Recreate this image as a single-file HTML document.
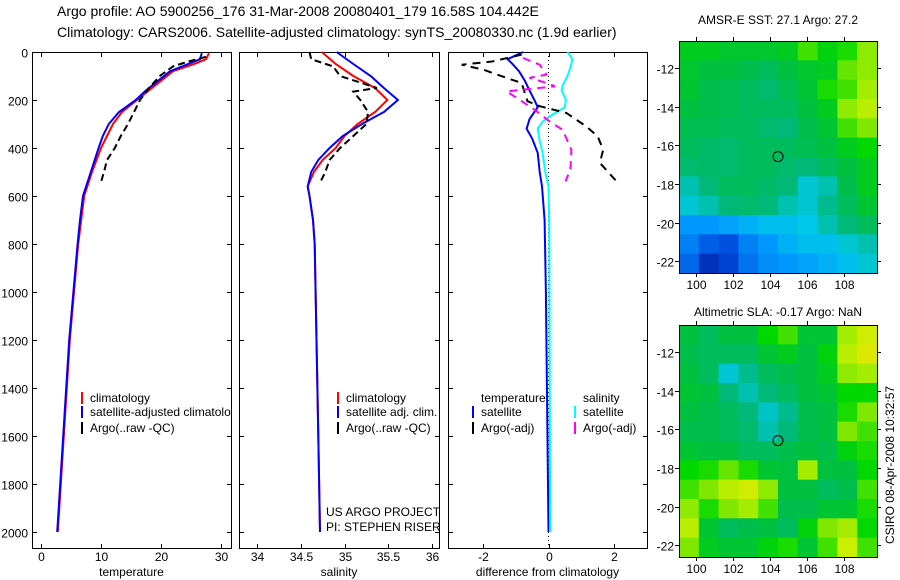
<!DOCTYPE html>
<html><head><meta charset="utf-8"><style>
body{margin:0;background:#fff}
svg{display:block;font-family:"Liberation Sans",sans-serif}
text{fill:#000}
</style></head><body>
<svg id="s" width="900" height="580" viewBox="0 0 900 580">
<text x="57" y="16" font-size="14">Argo profile: AO 5900256_176 31-Mar-2008 20080401_179 16.58S 104.442E</text>
<text x="57" y="37" font-size="14">Climatology: CARS2006. Satellite-adjusted climatology: synTS_20080330.nc (1.9d earlier)</text>
<text x="778" y="24" font-size="12" text-anchor="middle">AMSR-E SST: 27.1 Argo: 27.2</text>
<text x="778" y="316" font-size="12" text-anchor="middle">Altimetric SLA: -0.17 Argo: NaN</text>
<text transform="translate(894,465) rotate(-90)" font-size="12" text-anchor="middle">CSIRO 08-Apr-2008 10:32:57</text>
<g id="g"></g>
</svg>
<script>
// ---------- data ----------
const tempClimDepth=[5,30,50,80,120,160,200,250,300,350,400,500,600,700,800,1000,1200,1400,1600,1800,2000];
const tempClim=[28,27.5,25.5,22,20,18,16,13.5,12,11,10,8.5,7.2,6.7,6.2,5.5,4.8,4.3,3.8,3.3,2.8];
const tempSat=[26.8,26.5,24.5,21.5,19.5,17.5,15.8,13,11.3,10.3,9.6,8.3,7,6.5,6.1,5.4,4.7,4.2,3.7,3.2,2.7];
const tempArgoDepth=[20,40,60,100,150,200,250,300,350,400,450,500,550];
const tempArgo=[27.5,24.5,22,19.8,18,16.5,15.5,14.5,13.3,12.3,11,10.5,9.9];
const salDepth=[0,50,100,150,200,250,300,350,400,450,500,560,600,700,800,1200,1600,2000];
const salClim=[34.74,34.9,35.1,35.35,35.49,35.35,35.15,35.0,34.9,34.75,34.65,34.58,34.6,34.64,34.66,34.68,34.7,34.72];
const salSat=[34.91,35.1,35.3,35.45,35.61,35.45,35.2,34.98,34.83,34.7,34.62,34.58,34.6,34.64,34.66,34.68,34.7,34.72];
const salArgoDepth=[0,30,60,100,150,165,200,250,300,350,400,450,500,545];
const salArgo=[34.6,34.62,34.87,34.95,35.37,35.1,35.18,35.27,35.25,35.1,34.95,34.83,34.78,34.72];
const dTempSatDepth=[0,30,50,80,120,160,200,230,250,280,320,360,420,500,560,700,1000,1500,2000];
const dTempSat=[-0.78,-1.25,-1.1,-0.9,-0.72,-0.58,-0.43,-0.33,-0.43,-0.58,-0.67,-0.5,-0.33,-0.27,-0.2,-0.12,-0.08,-0.04,0];
const dSalSatDepth=[0,30,60,100,140,160,200,230,260,290,320,370,420,500,560,700,1000,1500,2000];
const dSalSat=[0.58,0.73,0.68,0.58,0.43,0.4,0.53,0.5,0.13,-0.18,-0.33,-0.27,-0.18,-0.1,0,0.02,0.03,0.04,0.05];
const dTempArgoDepth=[11,39,53,74,108,129,205,226,254,310,351,407,462,539];
const dTempArgo=[-0.82,-1.7,-2.65,-1.98,-1.28,-0.82,-0.64,-0.27,0.55,1.15,1.5,1.67,1.57,2.08];
const dSalArgoDepth=[25,53,94,108,129,143,164,199,247,289,324,407,490,539];
const dSalArgo=[-0.78,-0.27,-0.06,-0.58,-0.06,0.2,-1.28,-0.88,-0.36,0.03,0.43,0.7,0.67,0.52];
const depthTicks=[0,200,400,600,800,1000,1200,1400,1600,1800,2000];
const tempTicks=[0,10,20,30];
const salTicks=[34,34.5,35,35.5,36];
const salTickLabels=["34","34.5","35","35.5","36"];
const diffTicks=[-2,0,2];
const lonTicks=[100,102,104,106,108];
const latTicks=[-12,-14,-16,-18,-20,-22];
const sstGrid=[
[0.65,0.65,0.63,0.63,0.63,0.65,0.75,0.68,0.72,0.82],
[0.63,0.6,0.6,0.58,0.55,0.6,0.63,0.65,0.78,0.82],
[0.62,0.58,0.57,0.55,0.52,0.57,0.62,0.72,0.75,0.85],
[0.6,0.58,0.57,0.55,0.55,0.55,0.6,0.65,0.82,0.88],
[0.57,0.57,0.55,0.55,0.52,0.5,0.58,0.62,0.75,0.8],
[0.55,0.53,0.52,0.55,0.55,0.55,0.57,0.6,0.65,0.7],
[0.52,0.53,0.52,0.55,0.55,0.52,0.5,0.55,0.6,0.65],
[0.45,0.5,0.55,0.55,0.53,0.5,0.42,0.45,0.58,0.65],
[0.42,0.45,0.5,0.52,0.5,0.45,0.42,0.48,0.55,0.62],
[0.3,0.3,0.32,0.35,0.38,0.38,0.4,0.45,0.5,0.55],
[0.25,0.18,0.15,0.25,0.3,0.35,0.38,0.38,0.42,0.45],
[0.2,0.08,0.12,0.22,0.28,0.3,0.32,0.35,0.38,0.42]];
const slaGrid=[
[0.6,0.55,0.6,0.6,0.7,0.75,0.62,0.62,0.85,0.92],
[0.58,0.55,0.55,0.55,0.62,0.65,0.6,0.68,0.88,0.95],
[0.6,0.55,0.42,0.48,0.55,0.58,0.6,0.65,0.82,0.85],
[0.62,0.6,0.5,0.45,0.5,0.55,0.6,0.62,0.7,0.7],
[0.6,0.58,0.55,0.5,0.43,0.48,0.58,0.6,0.72,0.8],
[0.58,0.58,0.55,0.52,0.45,0.5,0.58,0.6,0.8,0.75],
[0.62,0.6,0.6,0.55,0.55,0.58,0.6,0.58,0.68,0.72],
[0.7,0.72,0.78,0.72,0.62,0.6,0.85,0.6,0.6,0.7],
[0.75,0.8,0.88,0.92,0.82,0.6,0.6,0.55,0.58,0.75],
[0.82,0.72,0.8,0.85,0.75,0.58,0.58,0.62,0.62,0.72],
[0.88,0.62,0.55,0.58,0.6,0.55,0.68,0.8,0.85,0.7],
[0.8,0.65,0.62,0.62,0.68,0.72,0.62,0.75,0.9,0.75]];
const argoLon=104.442, argoLat=-16.58;

// ---------- helpers ----------
const NS="http://www.w3.org/2000/svg";
const G=document.getElementById('g');
function mk(tag,attrs,parent){const e=document.createElementNS(NS,tag);for(const k in attrs)e.setAttribute(k,attrs[k]);(parent||G).appendChild(e);return e;}
const PT=52,PB=548;
const yD=d=>PT+d*0.24;
const xT=v=>41+v*6;
const xS=v=>257+(v-34)*87.5;
const xDf=v=>548.5+v*32.75;
function line(xs,ds,xf,col,dash,name){
  const pts=xs.map((v,i)=>xf(v).toFixed(1)+','+yD(ds[i]).toFixed(1)).join(' ');
  const e=mk('polyline',{points:pts,fill:'none',stroke:col,'stroke-width':2,'stroke-dasharray':dash||'none'});
  
  
}
function panel(x0,x1,xticks,xlabels,xf,xtitle,name,showY){
  const r=mk('rect',{x:x0+0.5,y:PT+0.5,width:x1-x0,height:PB-PT,fill:'none',stroke:'#000'});
  
  
  depthTicks.forEach(d=>{
    const y=yD(d)+0.5;
    mk('line',{x1:x0,x2:x0+5,y1:y,y2:y,stroke:'#000'});
    mk('line',{x1:x1-4,x2:x1+1,y1:y,y2:y,stroke:'#000'});
    if(showY){const t=mk('text',{x:x0-4,y:y+5,'font-size':12,'text-anchor':'end'});t.textContent=d;
      
      }
  });
  xticks.forEach((v,i)=>{
    const x=Math.round(xf(v))+0.5;
    mk('line',{x1:x,x2:x,y1:PT,y2:PT+5,stroke:'#000'});
    mk('line',{x1:x,x2:x,y1:PB-4,y2:PB+1,stroke:'#000'});
    const t=mk('text',{x:x,y:561,'font-size':12,'text-anchor':'middle'});t.textContent=xlabels[i];
    
    
  });
  const t=mk('text',{x:(x0+x1)/2,y:576,'font-size':12,'text-anchor':'middle'});t.textContent=xtitle;
  
  
}
function legend(x,y,col,dash,label,name){
  mk('line',{x1:x,x2:x,y1:y-6,y2:y+6,stroke:col,'stroke-width':2});
  const t=mk('text',{x:x+8,y:y+4,'font-size':12});t.textContent=label;
  
  
}

// ---------- profile panels ----------
const cp=mk('clipPath',{id:'c1'});mk('rect',{x:32,y:52,width:199,height:496},cp);
panel(32,231,tempTicks,tempTicks.map(String),xT,'temperature','temperature-panel',true);
line(tempClim,tempClimDepth,xT,'#f00',null,'temp-climatology-line');
line(tempSat,tempClimDepth,xT,'#00f',null,'temp-satellite-line');
line(tempArgo,tempArgoDepth,xT,'#000','7,4','temp-argo-line');
legend(82,398,'#f00',null,'climatology','legend-climatology');
const lg=mk('g',{'clip-path':'url(#c1)'});
const ta=mk('text',{x:90,y:416,'font-size':12},lg);ta.textContent='satellite-adjusted climatology';


mk('line',{x1:82,x2:82,y1:406,y2:418,stroke:'#00f','stroke-width':2});
legend(82,428,'#000',null,'Argo(..raw -QC)','legend-argo');

panel(239,439,salTicks,salTickLabels,xS,'salinity','salinity-panel',false);
line(salClim,salDepth,xS,'#f00',null,'sal-climatology-line');
line(salSat,salDepth,xS,'#00f',null,'sal-satellite-line');
line(salArgo,salArgoDepth,xS,'#000','7,4','sal-argo-line');
legend(338,398,'#f00',null,'climatology','legend-sal-climatology');
legend(338,412,'#00f',null,'satellite adj. clim.','legend-sal-satellite');
legend(338,428,'#000',null,'Argo(..raw -QC)','legend-sal-argo');
[['US ARGO PROJECT',516],['PI: STEPHEN RISER',531]].forEach(a=>{const t=mk('text',{x:326,y:a[1],'font-size':12});t.textContent=a[0];
  
  });

panel(448,647,diffTicks,diffTicks.map(String),xDf,'difference from climatology','difference-panel',false);
const zl=mk('line',{x1:548.5,x2:548.5,y1:PT,y2:PB,stroke:'#000','stroke-dasharray':'1,3'});


line(dTempSat,dTempSatDepth,xDf,'#00f',null,'diff-temp-satellite-line');
line(dSalSat,dSalSatDepth,xDf,'#0ff',null,'diff-sal-satellite-line');
line(dTempArgo,dTempArgoDepth,xDf,'#000','8,6','diff-temp-argo-line');
line(dSalArgo,dSalArgoDepth,xDf,'#f0f','8,6','diff-sal-argo-line');
[['temperature',481],['salinity',583]].forEach(a=>{const t=mk('text',{x:a[1],y:402,'font-size':12});t.textContent=a[0];
  
  });
legend(473,412,'#00f',null,'satellite','legend-diff-temp-sat');
legend(473,428,'#000',null,'Argo(-adj)','legend-diff-temp-argo');
legend(575,412,'#0ff',null,'satellite','legend-diff-sal-sat');
legend(575,428,'#f0f',null,'Argo(-adj)','legend-diff-sal-argo');

// ---------- maps ----------
const stops=[[0,[0,16,144]],[0.15,[0,80,224]],[0.3,[0,152,255]],[0.4,[0,200,232]],[0.5,[0,184,120]],[0.6,[0,192,64]],[0.7,[0,216,0]],[0.8,[128,232,0]],[0.9,[200,240,0]],[1,[240,224,0]]];
function cmap(v){for(let i=1;i<stops.length;i++){if(v<=stops[i][0]){const a=stops[i-1],b=stops[i],t=(v-a[0])/(b[0]-a[0]);
  return 'rgb('+a[1].map((c,k)=>Math.round(c+(b[1][k]-c)*t)).join(',')+')';}}return 'rgb(240,224,0)';}
function map(grid,top,bot,name){
  const L=679,R=877,lon0=99.08,lon1=109.8;
  const lat0=-10.6,lat1=-22.6;
  const xL=v=>L+(v-lon0)/(lon1-lon0)*(R-L);
  const yL=v=>top+(v-lat0)/(lat1-lat0)*(bot-top);
  const rows=grid.length,cols=grid[0].length;
  const cw=(R-L)/cols,ch=(bot-top)/rows;
  grid.forEach((row,i)=>row.forEach((v,j)=>{
    const c=mk('rect',{x:(L+j*cw).toFixed(2),y:(top+i*ch).toFixed(2),width:(cw+0.6).toFixed(2),height:(ch+0.6).toFixed(2),fill:cmap(v)});
    
    
  }));
  const f=mk('rect',{x:L+0.5,y:top+0.5,width:R-L,height:bot-top,fill:'none',stroke:'#000'});
  
  
  lonTicks.forEach(v=>{const x=Math.round(xL(v))+0.5;
    mk('line',{x1:x,x2:x,y1:top-4,y2:top,stroke:'#000'});
    mk('line',{x1:x,x2:x,y1:bot,y2:bot+4,stroke:'#000'});
    const t=mk('text',{x:x,y:bot+16,'font-size':12,'text-anchor':'middle'});t.textContent=v;
    
    });
  latTicks.forEach(v=>{const y=Math.round(yL(v))+0.5;
    mk('line',{x1:L-4,x2:L,y1:y,y2:y,stroke:'#000'});
    mk('line',{x1:R,x2:R+4,y1:y,y2:y,stroke:'#000'});
    const t=mk('text',{x:L-5,y:y+5,'font-size':12,'text-anchor':'end'});t.textContent=v;
    
    });
  const m=mk('circle',{cx:xL(argoLon),cy:yL(argoLat),r:5,fill:'none',stroke:'#000','stroke-width':1});
  
  
}
map(sstGrid,41,273,'sst-map');
map(slaGrid,325,557,'sla-map');
</script>
</body></html>
